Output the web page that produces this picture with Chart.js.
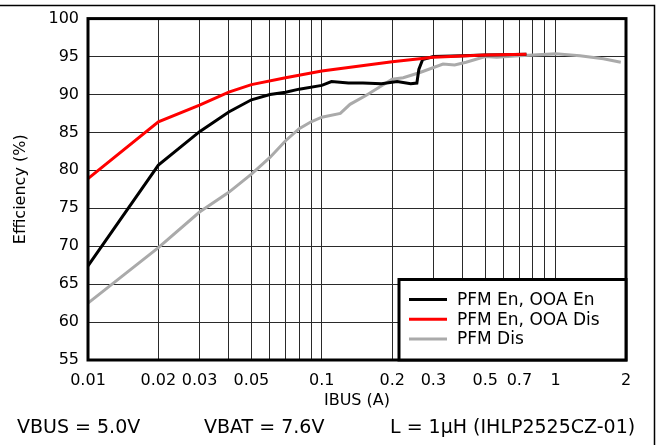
<!DOCTYPE html>
<html>
<head>
<meta charset="utf-8">
<script src="https://cdn.jsdelivr.net/npm/chart.js@4.4.0/dist/chart.umd.min.js"></script>
<style>
html,body{margin:0;padding:0;background:#fff;}
#wrap{width:657px;height:445px;}
</style>
</head>
<body>
<div id="wrap"><canvas id="canvasEff" width="657" height="445"></canvas></div>
<script>

// PFM En, OOA En
let blackX=[0.01,0.02,0.03,0.04,0.05,0.06,0.07,0.08,0.1,0.11,0.13,0.15,0.18,0.21,0.24,0.255,0.26,0.27,0.3,0.4,0.5,0.6,0.75]
let blackY=[67.4,80.7,85.1,87.7,89.3,90.0,90.3,90.7,91.2,91.7,91.5,91.5,91.4,91.7,91.4,91.5,93.3,94.6,95.0,95.1,95.2,95.25,95.3]

// PFM En, OOA Dis
let redX=[0.01,0.02,0.03,0.04,0.05,0.07,0.1,0.2,0.3,0.5,0.75]
let redY=[78.9,86.4,88.6,90.3,91.3,92.2,93.1,94.3,94.9,95.2,95.3]

// PFM Dis
let grayX=[0.01,0.02,0.03,0.04,0.05,0.06,0.07,0.08,0.09,0.1,0.12,0.132,0.155,0.2,0.223,0.263,0.33,0.37,0.414,0.5,0.56,0.7,1.0,1.27,1.6,1.9]
let grayY=[62.5,69.8,74.5,77.1,79.5,81.7,83.9,85.5,86.4,87.0,87.5,88.7,89.9,92.0,92.2,92.9,94.0,93.9,94.25,95.0,94.9,95.1,95.35,95.1,94.7,94.25]

let seriesNames=['PFM En, OOA En','PFM En, OOA Dis','PFM Dis']
let seriesColors=['#000000','#ff0000','#aaaaaa']

let xGrid=[0.01,0.02,0.03,0.04,0.05,0.06,0.07,0.08,0.09,0.1,0.2,0.3,0.4,0.5,0.6,0.7,0.8,0.9,1,2]
let xLabels=[0.01,0.02,0.03,0.05,0.1,0.2,0.3,0.5,0.7,1,2]

let footerTexts=['VBUS = 5.0V','VBAT = 7.6V','L = 1\u00b5H (IHLP2525CZ-01)']

let fontName='"DejaVu Sans", sans-serif'


function toPoints(xs,ys){
    let arr=[]
    for (let i=0;i<xs.length;i++){
        arr.push({x:xs[i],y:ys[i]})
    }
    return arr;
}


let extras={
    id:'extras',
    afterDraw(chart){
        let ctx=chart.ctx
        let a=chart.chartArea
        ctx.save()

        // plot frame
        ctx.strokeStyle='#000'
        ctx.lineWidth=3
        ctx.strokeRect(a.left,a.top,a.right-a.left,a.bottom-a.top)

        // legend box
        let bx=399, by=279.5
        ctx.fillStyle='#fff'
        ctx.fillRect(bx,by,a.right-bx,a.bottom-by)
        ctx.strokeRect(bx,by,a.right-bx,a.bottom-by)

        ctx.font='17px '+fontName
        ctx.textBaseline='middle'
        ctx.textAlign='left'
        for (let i=0;i<seriesNames.length;i++){
            let yy=by+20+i*19.7
            ctx.strokeStyle=seriesColors[i]
            ctx.lineWidth=3
            ctx.beginPath()
            ctx.moveTo(409,yy)
            ctx.lineTo(447,yy)
            ctx.stroke()
            ctx.fillStyle='#000'
            ctx.fillText(seriesNames[i],457,yy+1)
        }

        // outer frame
        ctx.strokeStyle='#000'
        ctx.lineWidth=1.5
        ctx.beginPath()
        ctx.moveTo(0,5.5)
        ctx.lineTo(654.5,5.5)
        ctx.lineTo(654.5,445)
        ctx.stroke()

        // conditions
        ctx.font='19px '+fontName
        ctx.textBaseline='alphabetic'
        ctx.fillStyle='#000'
        ctx.fillText(footerTexts[0],17,433)
        ctx.fillText(footerTexts[1],204,433)
        ctx.fillText(footerTexts[2],390,433)
        ctx.restore()
    }
}


function buildEfficiency(){
    let datasets=[]
    let xs=[blackX,redX,grayX]
    let ys=[blackY,redY,grayY]
    let orders=[1,0,2]
    for (let i=0;i<3;i++){
        datasets.push({
            label:seriesNames[i],
            data:toPoints(xs[i],ys[i]),
            borderColor:seriesColors[i],
            backgroundColor:seriesColors[i],
            borderWidth:3,
            pointRadius:0,
            fill:false,
            tension:0,
            order:orders[i]
        })
    }

    let myChart={
        type:'line',
        data:{datasets:datasets},
        options:{
            responsive:false,
            animation:false,
            layout:{padding:{top:18,right:31,bottom:35,left:0}},
            plugins:{legend:{display:false},tooltip:{enabled:false}},
            scales:{
                x:{
                    type:'logarithmic',
                    min:0.01,
                    max:2,
                    afterBuildTicks:function(scale){
                        scale.ticks=xGrid.map(function(v){return {value:v}})
                    },
                    afterFit:function(scale){scale.height=50},
                    grid:{color:'#2a2a2a',lineWidth:1,drawTicks:false},
                    border:{display:false},
                    ticks:{
                        autoSkip:false,
                        maxRotation:0,
                        padding:11,
                        color:'#000',
                        font:{family:fontName,size:16},
                        callback:function(value){
                            for (let i=0;i<xLabels.length;i++){
                                if (Math.abs(xLabels[i]-value)<1e-9) return String(xLabels[i])
                            }
                            return ''
                        }
                    },
                    title:{display:true,text:'IBUS (A)',color:'#000',font:{family:fontName,size:16},padding:{top:0,bottom:0}}
                },
                y:{
                    min:55,
                    max:100,
                    afterFit:function(scale){scale.width=88},
                    grid:{color:'#2a2a2a',lineWidth:1,drawTicks:false},
                    border:{display:false},
                    ticks:{
                        stepSize:5,
                        padding:9,
                        color:'#000',
                        font:{family:fontName,size:16}
                    },
                    title:{display:true,text:'Efficiency (%)',color:'#000',font:{family:fontName,size:16},padding:{top:11,bottom:0}}
                }
            }
        },
        plugins:[extras]
    };

    let ctx=document.getElementById("canvasEff").getContext("2d");
    new Chart(ctx,myChart);
}

buildEfficiency()

</script>
</body>
</html>
